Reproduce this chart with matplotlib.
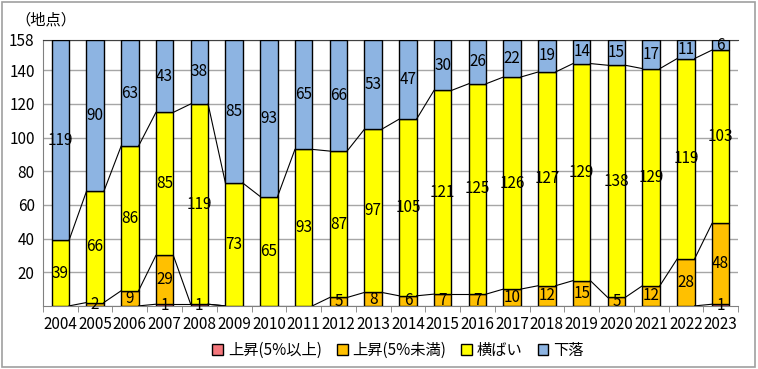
import matplotlib.pyplot as plt
import numpy as np
from matplotlib.patches import Rectangle

plt.rcParams['font.family'] = ['Noto Sans CJK JP', 'DejaVu Sans']

years = [str(y) for y in range(2004, 2024)]
up_big = [0, 0, 0, 1, 1, 0, 0, 0, 0, 0, 0, 0, 0, 0, 0, 0, 0, 0, 0, 1]
up_small = [0, 2, 9, 29, 0, 0, 0, 0, 5, 8, 6, 7, 7, 10, 12, 15, 5, 12, 28, 48]
flat = [39, 66, 86, 85, 119, 73, 65, 93, 87, 97, 105, 121, 125, 126, 127, 129, 138, 129, 119, 103]
down = [119, 90, 63, 43, 38, 85, 93, 65, 66, 53, 47, 30, 26, 22, 19, 14, 15, 17, 11, 6]

names = ["上昇(5%以上)", "上昇(5%未満)", "横ばい", "下落"]
colors = ["#F4777C", "#FFC000", "#FFFF00", "#8DB4E2"]
series = [up_big, up_small, flat, down]

fig = plt.figure(figsize=(7.58, 3.69), dpi=100)
ax = fig.add_axes([0.0567, 0.171, 0.917, 0.7206])

x = np.arange(len(years))
w = 0.5
bottom = np.zeros(len(years))
cums = []
for vals, name, c in zip(series, names, colors):
    vals = np.array(vals)
    ax.bar(x, vals, w, bottom=bottom, color=c, edgecolor="black", linewidth=1.0,
           label=name, zorder=3)
    for i, v in enumerate(vals):
        if v > 0:
            ax.text(x[i], bottom[i] + v / 2, str(v), ha="center", va="center",
                    fontsize=11, zorder=5)
    bottom = bottom + vals
    cums.append(bottom.copy())

# series lines between bars
for cum in cums[:3]:
    for i in range(len(years) - 1):
        ax.plot([x[i] + w / 2, x[i + 1] - w / 2], [cum[i], cum[i + 1]],
                color="black", linewidth=0.8, zorder=4)

ax.set_xlim(-0.5, len(years) - 0.5)
ax.set_ylim(0, 158)
ax.set_yticks([20, 40, 60, 80, 100, 120, 140, 158])
ax.set_xticks(x)
ax.set_xticklabels(years, fontsize=11)
ax.tick_params(axis="y", labelsize=11, length=0, pad=6)
ax.set_xticks(np.arange(-0.5, len(years)), minor=True)
ax.tick_params(axis="x", which="major", length=0, pad=7)
ax.tick_params(axis="x", which="minor", length=4, color="#808080")
ax.grid(axis="y", color="#A6A6A6", linewidth=1.0, zorder=0)
ax.spines["right"].set_visible(False)
ax.spines["top"].set_color("#404040")
ax.spines["left"].set_color("#808080")
ax.spines["bottom"].set_color("#808080")

fig.text(0.02, 0.947, "（地点）", fontsize=11, va="center")

handles, labels = ax.get_legend_handles_labels()
fig.legend(handles, labels, loc="center", bbox_to_anchor=(0.525, 0.05), ncol=4,
           frameon=False, fontsize=11, handlelength=0.7, handleheight=0.7,
           handletextpad=0.3, columnspacing=1.0, borderpad=0.1)

fig.patches.append(Rectangle((0.003, 0.005), 0.993, 0.99, transform=fig.transFigure,
                             fill=False, edgecolor="#A0A0A0", linewidth=1.2))

fig.savefig("out.png", dpi=100)
